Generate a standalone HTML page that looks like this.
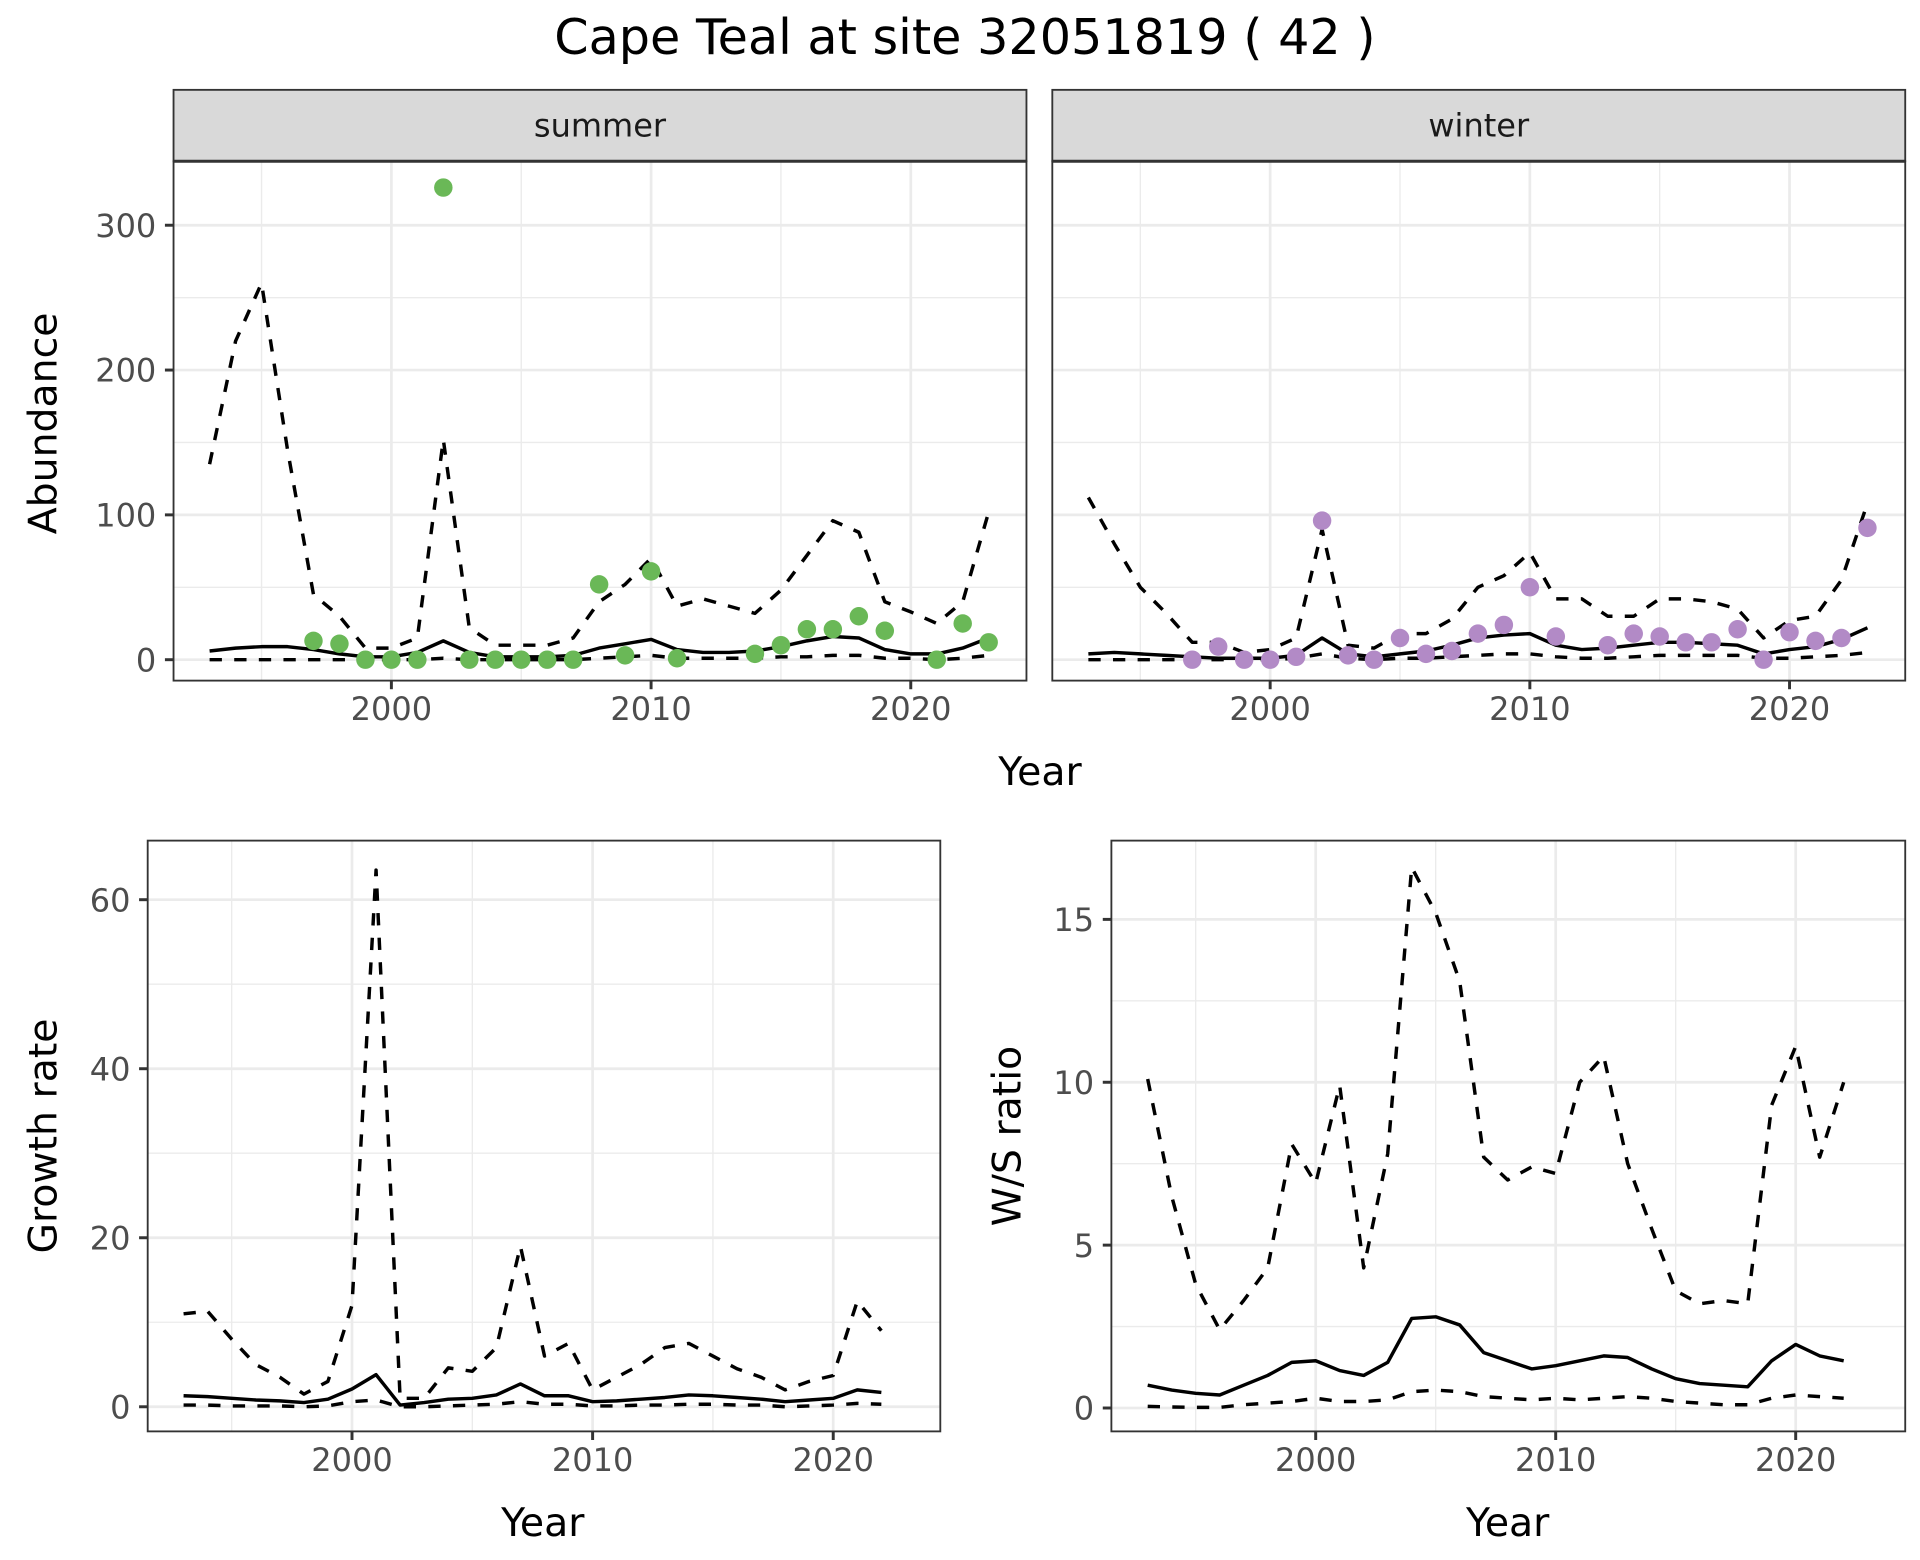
<!DOCTYPE html>
<html><head><meta charset="utf-8"><style>
html,body{margin:0;padding:0;background:#fff;}
svg{display:block;font-family:"DejaVu Sans","Liberation Sans",sans-serif;}
</style></head><body>
<svg id="chart" width="1920" height="1560" viewBox="0 0 1560 1267.5" xmlns="http://www.w3.org/2000/svg">
<rect width="1560" height="1267.5" fill="#fff"/>
<text x="784" y="44" font-size="40" text-anchor="middle" fill="#000">Cape Teal at site 32051819 ( 42 )</text>
<g id="layer"></g>
</svg>
<script>
const yearsAb = [1993,1994,1995,1996,1997,1998,1999,2000,2001,2002,2003,2004,2005,2006,2007,2008,2009,2010,2011,2012,2013,2014,2015,2016,2017,2018,2019,2020,2021,2022,2023];
const summerMid = [6,8,9,9,7,4,2,2,5,13,5,2,2,2,3,8,11,14,7,5,5,6,9,13,16,15,7,4,4,8,15];
const summerUpper = [135,220,260,145,45,30,8,8,15,152,22,10,10,10,15,40,52,70,37,42,37,32,48,72,96,88,40,33,25,40,102];
const summerLower = [0,0,0,0,0,0,0,0,0,1,0,0,0,0,0,1,2,3,1,1,1,1,2,2,3,3,1,1,0,1,3];
const summerPtYears = [1997,1998,1999,2000,2001,2002,2003,2004,2005,2006,2007,2008,2009,2010,2011,2014,2015,2016,2017,2018,2019,2021,2022,2023];
const summerPts = [13,11,0,0,0,326,0,0,0,0,0,52,3,61,1,4,10,21,21,30,20,0,25,12];
const winterMid = [4,5,4,3,2,1,1,1,3,15,4,2,4,6,10,15,17,18,10,7,8,10,12,12,11,10,4,7,9,14,22];
const winterUpper = [112,80,50,32,12,12,5,7,15,90,10,8,18,18,28,50,58,74,42,42,30,30,42,42,40,35,15,27,30,55,108];
const winterLower = [0,0,0,0,0,0,0,0,1,4,1,0,1,1,2,3,4,4,2,1,1,2,3,3,3,3,1,1,2,3,5];
const winterPtYears = [1997,1998,1999,2000,2001,2002,2003,2004,2005,2006,2007,2008,2009,2010,2011,2013,2014,2015,2016,2017,2018,2019,2020,2021,2022,2023];
const winterPts = [0,9,0,0,2,96,3,0,15,4,6,18,24,50,16,10,18,16,12,12,21,0,19,13,15,91];
const yearsR = [1993,1994,1995,1996,1997,1998,1999,2000,2001,2002,2003,2004,2005,2006,2007,2008,2009,2010,2011,2012,2013,2014,2015,2016,2017,2018,2019,2020,2021,2022];
const growthMid = [1.3,1.2,1.0,0.8,0.7,0.5,0.9,2.1,3.8,0.2,0.5,0.9,1.0,1.4,2.7,1.3,1.3,0.6,0.7,0.9,1.1,1.4,1.3,1.1,0.9,0.6,0.8,1.0,2.0,1.7];
const growthUpper = [11,11.3,8,5,3.5,1.5,3,12,63.5,1,1,4.6,4.2,7,19,6,7.5,2,3.5,5,7,7.5,6,4.5,3.5,2,3,3.7,12.5,9];
const growthLower = [0.2,0.2,0.1,0.1,0.1,0,0.1,0.6,0.8,0,0,0.1,0.2,0.3,0.6,0.3,0.3,0.1,0.1,0.2,0.2,0.3,0.3,0.2,0.2,0,0.1,0.2,0.4,0.3];
const wsMid = [0.7,0.55,0.45,0.4,0.7,1.0,1.4,1.45,1.15,1.0,1.4,2.75,2.8,2.55,1.7,1.45,1.2,1.3,1.45,1.6,1.55,1.2,0.9,0.75,0.7,0.65,1.45,1.95,1.6,1.45];
const wsUpper = [10.1,6.5,3.8,2.4,3.3,4.3,8.1,6.9,9.9,4.3,7.8,16.6,15.2,13.1,7.7,7,7.4,7.2,10,10.8,7.5,5.5,3.6,3.2,3.3,3.2,9.3,11.1,7.7,10];
const wsLower = [0.05,0.03,0.02,0.02,0.1,0.15,0.2,0.3,0.2,0.2,0.25,0.5,0.55,0.5,0.35,0.3,0.25,0.3,0.25,0.3,0.35,0.3,0.2,0.15,0.1,0.1,0.3,0.4,0.35,0.3];
const xTicks = [2000,2010,2020];
const abTicks = [0,100,200,300];
const growthTicks = [0,20,40,60];
const wsTicks = [0,5,10,15];

const NS = "http://www.w3.org/2000/svg";
const layer = document.getElementById('layer');
function mk(tag, attrs, parent){const e=document.createElementNS(NS,tag);for(const k in attrs)e.setAttribute(k,attrs[k]);(parent||layer).appendChild(e);return e;}
const TF = 26;

function panel(cfg){
  const g = mk('g',{});
  
  
  const xs = v => cfg.x0 + (v - cfg.xa) * (cfg.x1 - cfg.x0) / (cfg.xb - cfg.xa);
  const ys = v => cfg.y0 + (v - cfg.ya) * (cfg.y1 - cfg.y0) / (cfg.yb - cfg.ya);
  const L = cfg.L, R = cfg.R, T = cfg.T, B = cfg.B;
  mk('rect',{x:L,y:T,width:R-L,height:B-T,fill:'#fff'},g);
  const step = xTicks[1]-xTicks[0];
  for (let i=0;i<=xTicks.length;i++){const v=xTicks[0]-step/2+i*step;const px=xs(v);if(px>L&&px<R)mk('line',{x1:px,x2:px,y1:T,y2:B,stroke:'#ebebeb','stroke-width':1.1},g);}
  const ystep = cfg.yticks[1]-cfg.yticks[0];
  for (let i=0;i<=cfg.yticks.length;i++){const v=cfg.yticks[0]+ystep/2+i*ystep;const py=ys(v);if(py>T&&py<B)mk('line',{x1:L,x2:R,y1:py,y2:py,stroke:'#ebebeb','stroke-width':1.1},g);}
  xTicks.forEach(v=>{mk('line',{x1:xs(v),x2:xs(v),y1:T,y2:B,stroke:'#ebebeb','stroke-width':2.2},g);});
  cfg.yticks.forEach(v=>{mk('line',{x1:L,x2:R,y1:ys(v),y2:ys(v),stroke:'#ebebeb','stroke-width':2.2},g);});
  const line=(yrs,vals,dash,nm)=>{const p=mk('polyline',{points:yrs.map((y,i)=>xs(y)+','+ys(vals[i])).join(' '),fill:'none',stroke:'#000','stroke-width':2.8,'stroke-dasharray':dash?'10,10':'none','stroke-linejoin':'round'},g);
    
    };
  line(cfg.years,cfg.lower,true,cfg.name+'-lower-line');
  line(cfg.years,cfg.upper,true,cfg.name+'-upper-line');
  line(cfg.years,cfg.mid,false,cfg.name+'-mid-line');
  if (cfg.pts){cfg.ptYears.forEach((y,i)=>{const c=mk('circle',{cx:xs(y),cy:ys(cfg.pts[i]),r:7.5,fill:cfg.color},g);
    
    });}
  mk('rect',{x:L,y:T,width:R-L,height:B-T,fill:'none',stroke:'#333','stroke-width':1.5},g);
  xTicks.forEach(v=>{mk('line',{x1:xs(v),x2:xs(v),y1:B,y2:B+7,stroke:'#333','stroke-width':2.4},g);
    const t=mk('text',{x:xs(v),y:B+32,'font-size':TF,fill:'#4d4d4d','text-anchor':'middle'},g);t.textContent=v;
    
    });
  if (cfg.showY){cfg.yticks.forEach(v=>{mk('line',{x1:L-7,x2:L,y1:ys(v),y2:ys(v),stroke:'#333','stroke-width':2.4},g);
    const t=mk('text',{x:L-14,y:ys(v)+9.5,'font-size':TF,fill:'#4d4d4d','text-anchor':'end'},g);t.textContent=v;
    
    });}
  if (cfg.strip){const sr=mk('rect',{x:L,y:cfg.stripT,width:R-L,height:T-cfg.stripT,fill:'#d9d9d9',stroke:'#333','stroke-width':1.5},g);
    
    
    mk('line',{x1:L,x2:R,y1:T,y2:T,stroke:'#333','stroke-width':2.5},g);
    const t=mk('text',{x:(L+R)/2,y:(cfg.stripT+T)/2+9,'font-size':TF,fill:'#1a1a1a','text-anchor':'middle'},g);t.textContent=cfg.strip;
    
    }
}

panel({name:'summer-panel',L:141,R:834,T:131,B:553,stripT:73,strip:'summer',showY:true,xa:2000,xb:2020,x0:318,x1:740,ya:0,yb:300,y0:536,y1:183,yticks:abTicks,years:yearsAb,mid:summerMid,upper:summerUpper,lower:summerLower,ptYears:summerPtYears,pts:summerPts,color:'#6ab857'});
panel({name:'winter-panel',L:855,R:1548,T:131,B:553,stripT:73,strip:'winter',showY:false,xa:2000,xb:2020,x0:1032,x1:1454,ya:0,yb:300,y0:536,y1:183,yticks:abTicks,years:yearsAb,mid:winterMid,upper:winterUpper,lower:winterLower,ptYears:winterPtYears,pts:winterPts,color:'#b28ac6'});
panel({name:'growth-panel',L:120,R:764,T:683,B:1163,showY:true,xa:2000,xb:2020,x0:286,x1:677,ya:0,yb:60,y0:1143,y1:731,yticks:growthTicks,years:yearsR,mid:growthMid,upper:growthUpper,lower:growthLower});
panel({name:'ws-panel',L:903,R:1548,T:683,B:1163,showY:true,xa:2000,xb:2020,x0:1069,x1:1459,ya:0,yb:15,y0:1144,y1:747,yticks:wsTicks,years:yearsR,mid:wsMid,upper:wsUpper,lower:wsLower});

function label(txt,x,y,rot,nm){const t=mk('text',{x:x,y:y,'font-size':32,fill:'#000','text-anchor':'middle',transform:rot?('rotate(-90 '+x+' '+y+')'):''});t.textContent=txt;
  
  }
label('Year',845,638,false,'x-axis-title-top');
label('Abundance',46,344,true,'y-axis-title-abundance');
label('Year',441,1248,false,'x-axis-title-growth');
label('Growth rate',46,923,true,'y-axis-title-growth');
label('Year',1225,1248,false,'x-axis-title-ws');
label('W/S ratio',829,923,true,'y-axis-title-ws');
</script>
</body></html>
